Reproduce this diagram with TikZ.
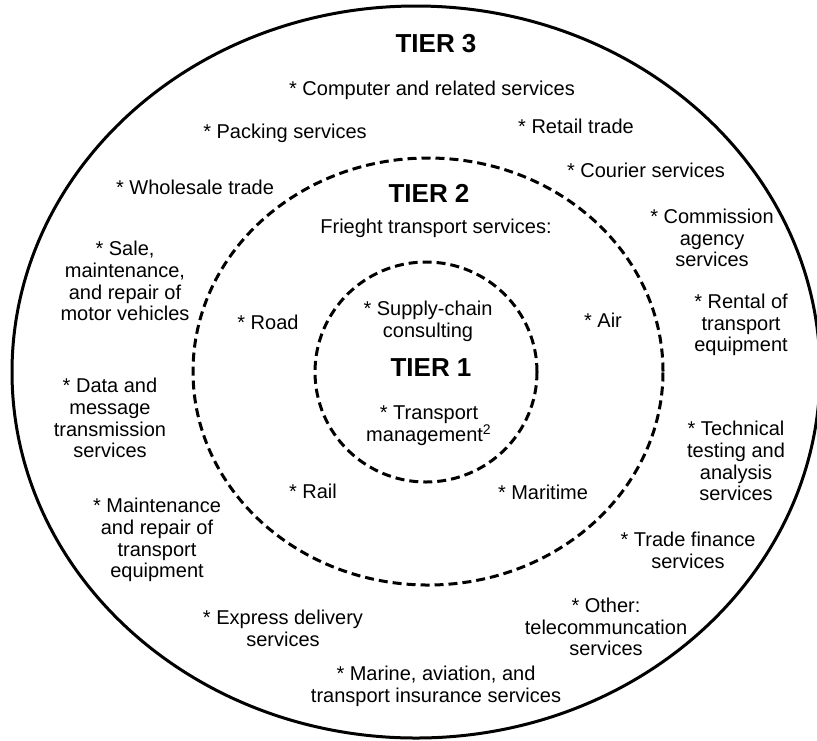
\documentclass[tikz,border=0pt]{standalone}
\usepackage{fontspec}
\setmainfont{Liberation Sans}

\begin{document}
\begin{tikzpicture}
[x=0.5pt,y=-0.5pt
,ring/.style={draw=black,line width=1.5pt}
,dring/.style={ring,dash pattern=on 4.5pt off 2.5pt}
,tier/.style={inner sep=0pt,font=\fontsize{13}{15}\selectfont\bfseries}
,svc/.style={align=center,inner sep=0pt,font=\fontsize{10}{10.85}\selectfont}]
\useasboundingbox (0,0) rectangle (817,740);
\draw[ring] (416,372) ellipse [x radius=202pt, y radius=183pt];
\draw[dring] (428,371.5) ellipse [x radius=117.5pt, y radius=106.75pt];
\draw[dring] (426,372) ellipse [x radius=55.5pt, y radius=55pt];
% tier 3
\node[tier] (t3) at (436,44) {TIER 3};
\node[svc] (comp) at (432,90) {* Computer and related services};
\node[svc] (pack) at (285,133) {* Packing services};
\node[svc] (retail) at (576,126) {* Retail trade};
\node[svc] (courier) at (646,170) {* Courier services};
\node[svc] (whole) at (195,187) {* Wholesale trade};
\node[svc] (comm) at (712,238) {* Commission\\agency\\services};
\node[svc] (sale) at (125,281) {* Sale,\\maintenance,\\and repair of\\motor vehicles};
\node[svc] (rental) at (741,325) {* Rental of\\transport\\equipment};
\node[svc] (data) at (110,418) {* Data and\\message\\transmission\\services};
\node[svc] (tech) at (736,461) {* Technical\\testing and\\analysis\\services};
\node[svc] (maint) at (157,540) {* Maintenance\\and repair of\\transport\\equipment};
\node[svc] (finance) at (688,550) {* Trade finance\\services};
\node[svc] (express) at (283,628) {* Express delivery\\services};
\node[svc] (other) at (606,627) {* Other:\\telecommuncation\\services};
\node[svc] (marine) at (436,686) {* Marine, aviation, and\\transport insurance services};
% tier 2
\node[tier] (t2) at (429,193) {TIER 2};
\node[svc] (freight) at (436,228) {Frieght transport services:};
\node[svc] (road) at (268,322) {* Road};
\node[svc] (air) at (603,320) {* Air};
\node[svc] (rail) at (313,491) {* Rail};
\node[svc] (sea) at (543,492) {* Maritime};
% tier 1
\node[svc] (supply) at (428,321.5) {* Supply-chain\\consulting};
\node[tier] (t1) at (431,368) {TIER 1};
\node[svc] (tmgmt) at (429,426) {* Transport\\management\textsuperscript{2}};
\end{tikzpicture}
\end{document}
